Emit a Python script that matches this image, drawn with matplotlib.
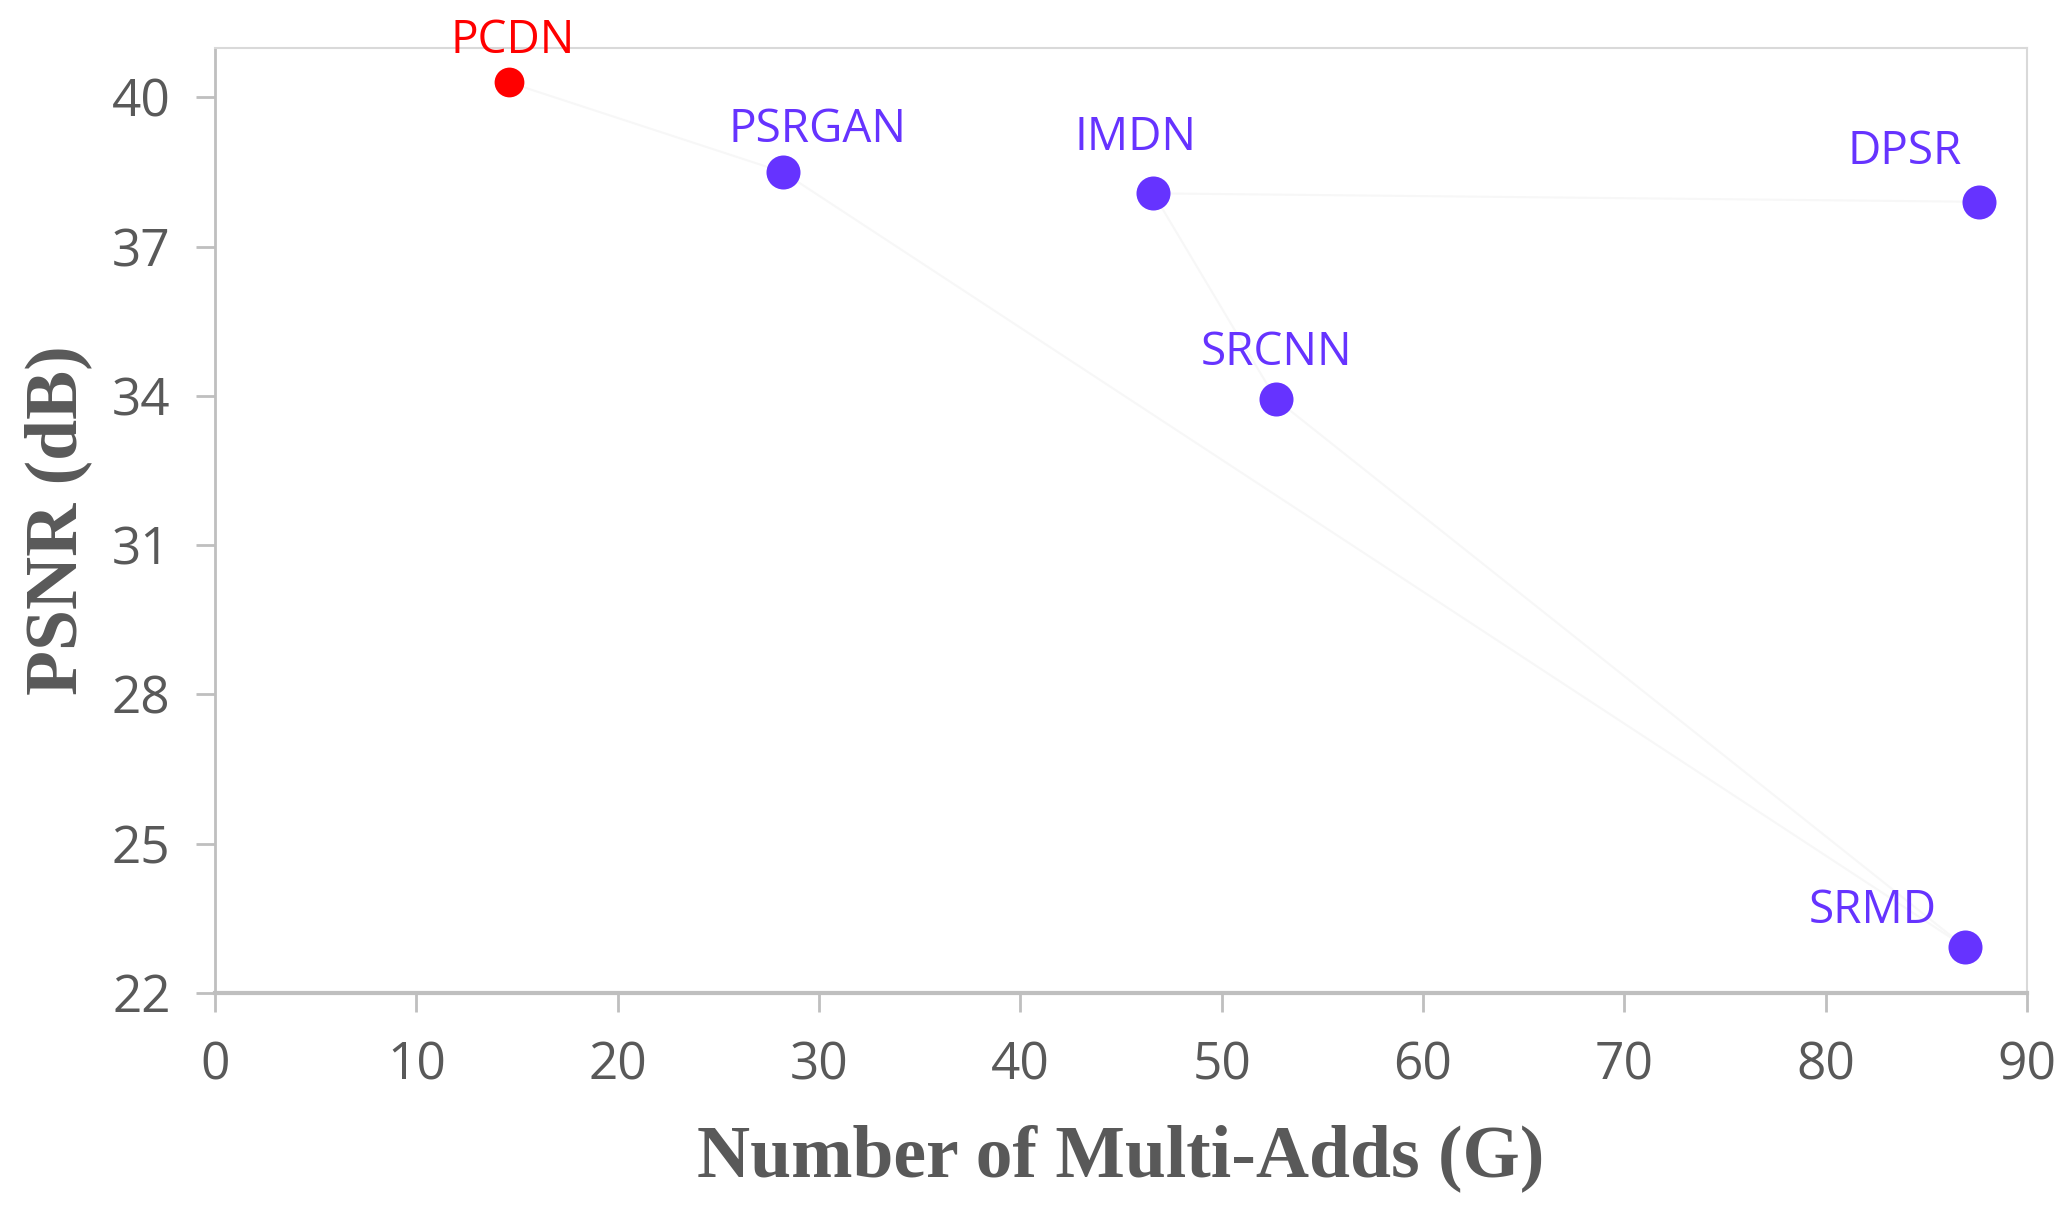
import matplotlib.pyplot as plt

# data
methods = ['PCDN', 'PSRGAN', 'IMDN', 'SRCNN', 'DPSR', 'SRMD']
multi_adds = [14.6, 28.2, 46.6, 52.7, 87.6, 86.9]
psnr = [40.3, 38.5, 38.07, 33.93, 37.9, 22.93]
# label offsets (points) relative to each marker
label_dx = [3, 25, -13, 0, -53, -66]
label_dy = [13, 14, 23, 17, 19, 9]
# very faint connecting lines between methods (index pairs)
links = [(0, 1), (1, 5), (2, 3), (3, 5), (2, 4)]

xticks = [0, 10, 20, 30, 40, 50, 60, 70, 80, 90]
yticks = [22, 25, 28, 31, 34, 37, 40]

red = '#ff0000'
blue = '#6633ff'
gray_text = '#595959'

fig = plt.figure(figsize=(20.71, 12.07), dpi=100)
ax = fig.add_axes([0.1038, 0.1773, 0.875, 0.7833])

# faint trend lines
for a, b in links:
    ax.plot([multi_adds[a], multi_adds[b]], [psnr[a], psnr[b]],
            color='#f7f7f7', linewidth=1.5, zorder=1)

for i, name in enumerate(methods):
    color = red if name == 'PCDN' else blue
    ax.scatter(multi_adds[i], psnr[i], s=600 if name != 'PCDN' else 460,
               color=color, zorder=3, linewidths=0)
    ax.annotate(name, (multi_adds[i], psnr[i]),
                xytext=(label_dx[i], label_dy[i]), textcoords='offset points',
                ha='center', va='bottom', color=color, fontsize=33,
                family='Open Sans', zorder=4, annotation_clip=False)

ax.set_xlim(0, 90)
ax.set_ylim(22, 41)
ax.set_xticks(xticks)
ax.set_yticks(yticks)

for side in ['top', 'right']:
    ax.spines[side].set_color('#d9d9d9')
    ax.spines[side].set_linewidth(1.5)
ax.spines['left'].set_color('#bfbfbf')
ax.spines['left'].set_linewidth(2)
ax.spines['bottom'].set_color('#bfbfbf')
ax.spines['bottom'].set_linewidth(3)

ax.tick_params(axis='both', direction='out', length=14, width=2,
               color='#bfbfbf', labelcolor=gray_text, labelsize=37)
ax.tick_params(axis='x', pad=20)
ax.tick_params(axis='y', pad=18)
for lbl in ax.get_xticklabels() + ax.get_yticklabels():
    lbl.set_family('Open Sans')

ax.set_xlabel('Number of Multi-Adds (G)', fontsize=53, fontweight='bold',
              family='Liberation Serif', color=gray_text, labelpad=24)
ax.set_ylabel('PSNR (dB)', fontsize=53, fontweight='bold',
              family='Liberation Serif', color=gray_text, labelpad=14)

plt.savefig('out.png', dpi=100)
plt.close()
